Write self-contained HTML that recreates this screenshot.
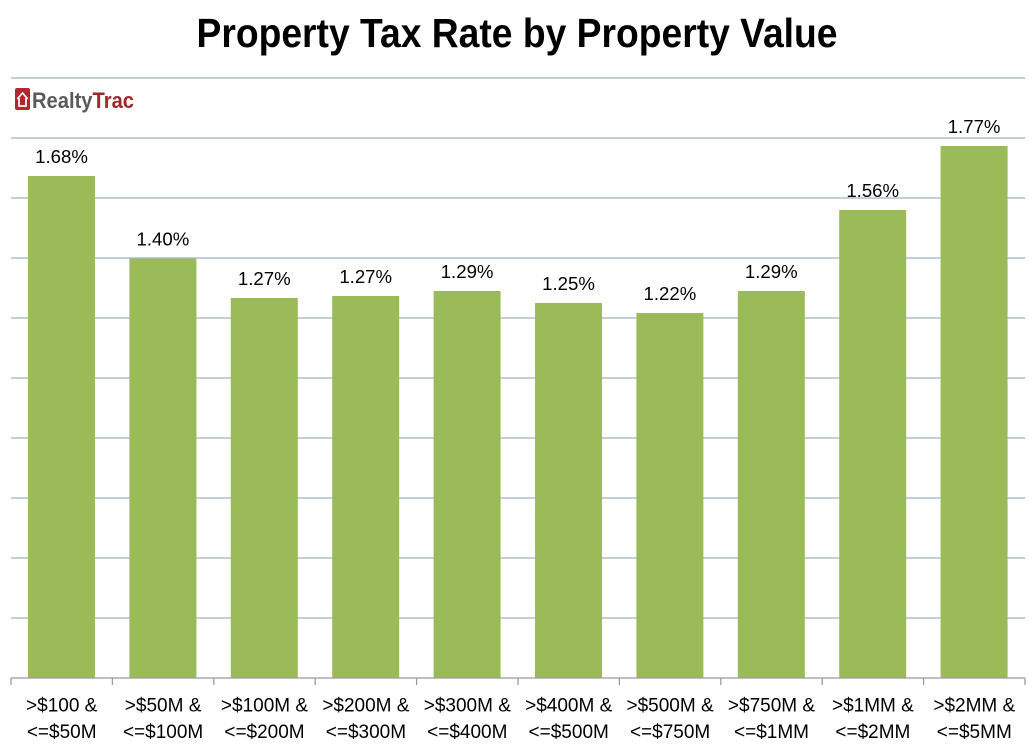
<!DOCTYPE html>
<html><head><meta charset="utf-8"><style>
html,body{margin:0;padding:0;background:#fff;}
svg{display:block;}
</style></head><body>
<svg width="1036" height="746" viewBox="0 0 1036 746" xmlns="http://www.w3.org/2000/svg">
<rect width="1036" height="746" fill="#fff"/>
<text x="517" y="47" text-anchor="middle" font-family="Liberation Sans, sans-serif" font-weight="bold" font-size="41" textLength="641" lengthAdjust="spacingAndGlyphs" fill="#000">Property Tax Rate by Property Value</text>
<g stroke="#aebdd6" stroke-width="1.6">
<line x1="11" y1="78" x2="1025" y2="78"/>
<line x1="11" y1="138" x2="1025" y2="138"/>
<line x1="11" y1="198" x2="1025" y2="198"/>
<line x1="11" y1="258" x2="1025" y2="258"/>
<line x1="11" y1="318" x2="1025" y2="318"/>
<line x1="11" y1="378" x2="1025" y2="378"/>
<line x1="11" y1="438" x2="1025" y2="438"/>
<line x1="11" y1="498" x2="1025" y2="498"/>
<line x1="11" y1="558" x2="1025" y2="558"/>
<line x1="11" y1="618" x2="1025" y2="618"/>
</g>
<!-- logo -->
<rect x="15" y="88" width="15" height="22" rx="2" fill="#b0272d"/>
<path d="M17.3 99 L22.5 93 L27.7 99 M19 98 V106 H26 V98" fill="none" stroke="#fff" stroke-width="1.7"/>
<text x="32" y="108" font-family="Liberation Sans, sans-serif" font-weight="bold" font-size="22" textLength="102" lengthAdjust="spacingAndGlyphs"><tspan fill="#5a5a5a">Realty</tspan><tspan fill="#a3262b">Trac</tspan></text>
<g fill="#9bbb59">
<rect x="28" y="176" width="67" height="502"/>
<rect x="129.4" y="258.5" width="67" height="419.5"/>
<rect x="230.8" y="298" width="67" height="380"/>
<rect x="332.2" y="296" width="67" height="382"/>
<rect x="433.6" y="291" width="67" height="387"/>
<rect x="535" y="303" width="67" height="375"/>
<rect x="636.4" y="313" width="67" height="365"/>
<rect x="737.8" y="291" width="67" height="387"/>
<rect x="839.2" y="210" width="67" height="468"/>
<rect x="940.6" y="146" width="67" height="532"/>
</g>
<g stroke="#9a9a9a" stroke-width="1.3">
<line x1="11" y1="678" x2="1025" y2="678"/>
<line x1="11" y1="678" x2="11" y2="685"/>
<line x1="112.4" y1="678" x2="112.4" y2="685"/>
<line x1="213.8" y1="678" x2="213.8" y2="685"/>
<line x1="315.2" y1="678" x2="315.2" y2="685"/>
<line x1="416.6" y1="678" x2="416.6" y2="685"/>
<line x1="518" y1="678" x2="518" y2="685"/>
<line x1="619.4" y1="678" x2="619.4" y2="685"/>
<line x1="720.8" y1="678" x2="720.8" y2="685"/>
<line x1="822.2" y1="678" x2="822.2" y2="685"/>
<line x1="923.6" y1="678" x2="923.6" y2="685"/>
<line x1="1025" y1="678" x2="1025" y2="685"/>
</g>
<g font-family="Liberation Sans, sans-serif" font-size="18.6" fill="#000" text-anchor="middle">
<text x="61.5" y="163">1.68%</text>
<text x="162.9" y="245.5">1.40%</text>
<text x="264.3" y="285">1.27%</text>
<text x="365.7" y="283">1.27%</text>
<text x="467.1" y="278">1.29%</text>
<text x="568.5" y="290">1.25%</text>
<text x="669.9" y="300">1.22%</text>
<text x="771.3" y="278">1.29%</text>
<text x="872.7" y="197">1.56%</text>
<text x="974.1" y="133">1.77%</text>
</g>
<g font-family="Liberation Sans, sans-serif" font-size="19" fill="#000" text-anchor="middle">
<text x="61.7" y="711.5">&gt;$100 &amp;</text><text x="61.7" y="738">&lt;=$50M</text>
<text x="163.1" y="711.5">&gt;$50M &amp;</text><text x="163.1" y="738">&lt;=$100M</text>
<text x="264.5" y="711.5">&gt;$100M &amp;</text><text x="264.5" y="738">&lt;=$200M</text>
<text x="365.9" y="711.5">&gt;$200M &amp;</text><text x="365.9" y="738">&lt;=$300M</text>
<text x="467.3" y="711.5">&gt;$300M &amp;</text><text x="467.3" y="738">&lt;=$400M</text>
<text x="568.7" y="711.5">&gt;$400M &amp;</text><text x="568.7" y="738">&lt;=$500M</text>
<text x="670.1" y="711.5">&gt;$500M &amp;</text><text x="670.1" y="738">&lt;=$750M</text>
<text x="771.5" y="711.5">&gt;$750M &amp;</text><text x="771.5" y="738">&lt;=$1MM</text>
<text x="872.9" y="711.5">&gt;$1MM &amp;</text><text x="872.9" y="738">&lt;=$2MM</text>
<text x="974.3" y="711.5">&gt;$2MM &amp;</text><text x="974.3" y="738">&lt;=$5MM</text>
</g>
</svg>
</body></html>
